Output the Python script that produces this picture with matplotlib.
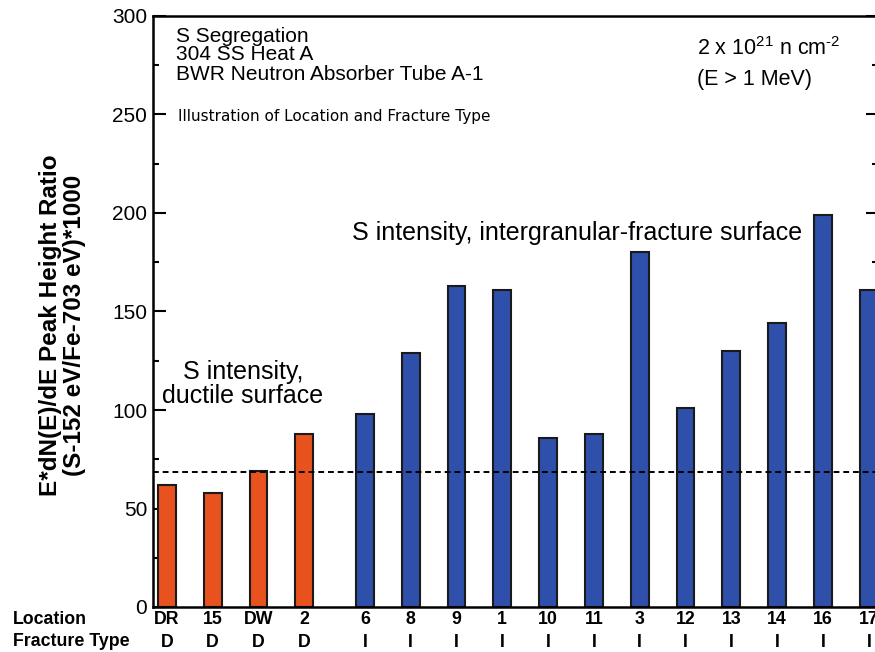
import matplotlib.pyplot as plt
import numpy as np

plt.rcParams['font.family'] = ['Liberation Sans', 'DejaVu Sans']
plt.rcParams['mathtext.fontset'] = 'custom'
plt.rcParams['mathtext.rm'] = 'Liberation Sans'

locations = ['DR', '15', 'DW', '2', '6', '8', '9', '1', '10', '11', '3', '12', '13', '14', '16', '17']
fracture = ['D', 'D', 'D', 'D', 'I', 'I', 'I', 'I', 'I', 'I', 'I', 'I', 'I', 'I', 'I', 'I']
ratio = [62, 58, 69, 88, 98, 129, 163, 161, 86, 88, 180, 101, 130, 144, 199, 161]
ductile_mean = 68.5

orange = '#E8521F'
blue = '#2E4FAA'

# ductile group then a small gap before the intergranular group
xpos = np.arange(len(ratio)) + np.array([0.32 if f == 'I' else 0 for f in fracture])
colors = [orange if f == 'D' else blue for f in fracture]

fig = plt.figure(figsize=(8.75, 6.52), dpi=100)
ax = fig.add_axes([152.7 / 875, 45 / 652, (878 - 152.7) / 875, (636 - 45) / 652])

ax.bar(xpos, ratio, width=0.39, color=colors, edgecolor='#1a1a1a', linewidth=1.5, zorder=2)
ax.axhline(ductile_mean, color='black', linestyle=(0, (3, 2)), linewidth=1.4, zorder=3)

ax.set_xlim(-0.31, 15.52)
ax.set_ylim(0, 300)
ax.set_yticks(np.arange(0, 301, 50))
ax.set_yticks(np.arange(25, 300, 50), minor=True)
ax.tick_params(axis='y', which='major', direction='in', length=9, width=1.5, labelsize=15, right=True, pad=4)
ax.tick_params(axis='y', which='minor', direction='in', length=4.5, width=1.5, right=True)

ax.set_xticks(xpos)
ax.set_xticklabels([f'{l}\n{f}' for l, f in zip(locations, fracture)],
                   fontsize=12.8, fontweight='bold', linespacing=1.42)
ax.tick_params(axis='x', length=0, pad=3)

for s in ax.spines.values():
    s.set_linewidth(1.8)

ax.set_ylabel('E*dN(E)/dE Peak Height Ratio\n(S-152 eV/Fe-703 eV)*1000',
              fontsize=17.5, fontweight='bold', linespacing=1.05)
ax.yaxis.set_label_coords(-0.092, 0.476)

fig.text(13 / 875, 1 - 620 / 652, 'Location', fontsize=12.8, fontweight='bold', va='center')
fig.text(13 / 875, 1 - 642 / 652, 'Fracture Type', fontsize=12.8, fontweight='bold', va='center')

fig.text(176 / 875, 1 - 55 / 652, 'S Segregation\n304 SS Heat A\nBWR Neutron Absorber Tube A-1',
         fontsize=15, linespacing=1.0, va='center')
fig.text(178 / 875, 1 - 117 / 652, 'Illustration of Location and Fracture Type',
         fontsize=11, family='DejaVu Sans', va='center')
fig.text(697 / 875, 1 - 49 / 652, r'2 x 10$^{21}$ n cm$^{\text{-}2}$', fontsize=15.5, va='center')
fig.text(697 / 875, 1 - 80 / 652, '(E > 1 MeV)', fontsize=15.5, va='center')

fig.text(352 / 875, 1 - 233 / 652, 'S intensity, intergranular-fracture surface', fontsize=18, va='center')
fig.text(243 / 875, 1 - 384 / 652, 'S intensity,\nductile surface', fontsize=18,
         ha='center', va='center', linespacing=0.95)

fig.savefig('out.png', dpi=100)
